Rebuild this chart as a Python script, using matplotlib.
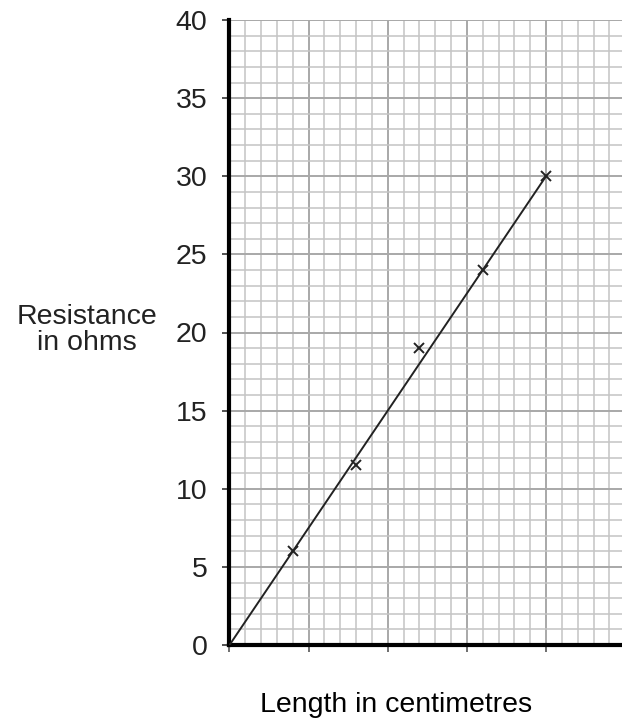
import numpy as np
import matplotlib.pyplot as plt
from matplotlib.ticker import MultipleLocator, NullFormatter

plt.rcParams['font.family'] = ['Liberation Sans', 'DejaVu Sans']

# measured points: length (cm) and resistance (ohms)
length_cm = [20, 40, 60, 80, 100]
resistance = [6, 11.5, 19, 24, 30]
# line of best fit drawn through the origin
fit_x = [0, 100]
fit_y = [0, 30]

y_ticks = [0, 5, 10, 15, 20, 25, 30, 35, 40]
x_ticks = [0, 25, 50, 75, 100]

W, H = 622, 727
fig = plt.figure(figsize=(W / 100, H / 100), dpi=100)
ax = fig.add_axes([229.5 / W, (H - 645) / H, (W - 229.5) / W, (645 - 20) / H])

ax.set_xlim(0, 124)
ax.set_ylim(0, 40)

ax.xaxis.set_minor_locator(MultipleLocator(5))
ax.yaxis.set_minor_locator(MultipleLocator(1))
ax.set_xticks(x_ticks)
ax.set_yticks(y_ticks)
ax.xaxis.set_major_formatter(NullFormatter())

ax.grid(which='minor', color='#c4c4c4', lw=1.1)
ax.grid(which='major', color='#a8a8a8', lw=1.4)
ax.set_axisbelow(True)

for s in ['top', 'right']:
    ax.spines[s].set_visible(False)
ax.spines['left'].set_linewidth(3)
ax.spines['bottom'].set_linewidth(3)

ax.tick_params(which='minor', length=0)
ax.tick_params(axis='y', which='major', length=5, width=1.2, color='#333333',
               labelsize=20.5, pad=11, labelcolor='#222222')
ax.tick_params(axis='x', which='major', length=5, width=1.2, color='#555555')

ax.plot(fit_x, fit_y, color='#222222', lw=1.4, zorder=3)
ax.plot(length_cm, resistance, 'x', color='#222222', ms=7, mew=1.4, zorder=4)

fig.text(87 / W, 1 - 330 / H, 'Resistance\nin ohms', ha='center', va='center',
         fontsize=20.5, color='#222222', linespacing=1.0)
fig.text(396 / W, 1 - 705 / H, 'Length in centimetres', ha='center', va='center',
         fontsize=20.5, color='black')

fig.savefig('out.png', dpi=100)
